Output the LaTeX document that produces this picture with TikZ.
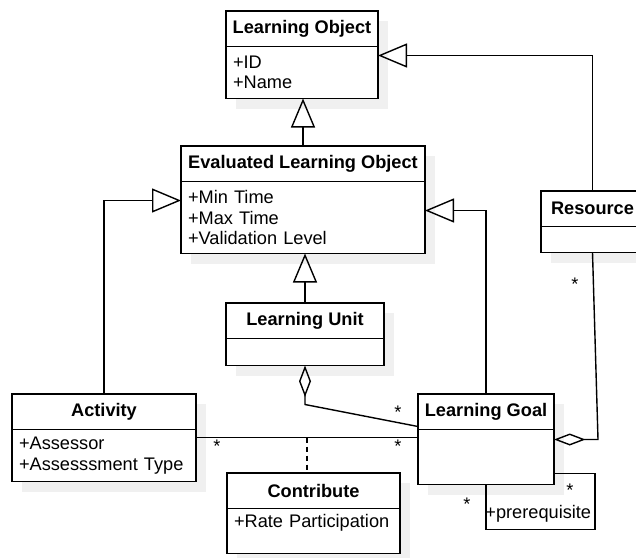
\documentclass[tikz,border=0pt]{standalone}
\usepackage{fontspec}
\setmainfont{Liberation Sans}
\usetikzlibrary{positioning,arrows.meta,shadows,calc}

\newcommand{\umlsize}{\fontsize{9.1}{10.25}\selectfont}

\tikzset{
  boxshadow/.style={drop shadow={shadow xshift=5pt, shadow yshift=-5pt, fill=black!6, opacity=1}},
  classhead/.style={draw, fill=white, line width=0.8pt, font=\umlsize\bfseries,
    inner sep=0pt, outer sep=0pt, minimum height=17.75pt, minimum width=#1,
    anchor=north west, boxshadow},
  classbody/.style 2 args={draw, fill=white, line width=0.8pt, align=left,
    inner xsep=3.5pt, inner ysep=0pt, outer sep=0pt, text width=#1,
    minimum height=#2, boxshadow}
}

\begin{document}
\begin{tikzpicture}[
        x=0.5pt,
        y=-0.5pt,
        every node/.append style={font=\umlsize},
        gen/.style={line width=0.7pt, -{Triangle[open, length=14.5pt, width=12pt]}},
        agg/.style={line width=0.7pt, -{Diamond[open, length=15.75pt, width=6pt]}},
        assoc/.style={line width=0.7pt},
        mult/.style={inner sep=0pt, anchor=north}]

\clip (0,0) rectangle (636,557);

%Klassen
\node[classhead=76pt] (lo) at (226,11) {Learning Object};
\node[classbody={69pt}{26pt}, below=0pt of lo] (lo-b) {+ID\\+Name};

\node[classhead=122pt] (elo) at (181,146) {Evaluated Learning Object};
\node[classbody={115pt}{36pt}, below=0pt of elo] (elo-b) {+Min Time\\+Max Time\\+Validation Level};

\node[classhead=51.5pt] (res) at (541,191) {Resource};
\node[classbody={44.5pt}{13pt}, below=0pt of res] (res-b) {};

\node[classhead=79pt] (lu) at (226,303) {Learning Unit};
\node[classbody={72pt}{13.5pt}, below=0pt of lu] (lu-b) {};

\node[classhead=92pt] (act) at (12,394) {Activity};
\node[classbody={85pt}{26pt}, below=0pt of act] (act-b) {+Assessor\\+Assesssment Type};

\node[classhead=68pt] (lg) at (418,394) {Learning Goal};
\node[classbody={61pt}{27.5pt}, below=0pt of lg] (lg-b) {};

\node[classhead=86.5pt] (con) at (227,473) {Contribute};
\node[classbody={79.5pt}{22.5pt}, below=0pt of con] (con-b) {+Rate Participation\\\mbox{}};

%Vererbung
\draw[gen] (elo.north) -- (elo.north |- lo-b.south);
\coordinate (lo-r) at ([yshift=-4.5pt]lo-b.north east);
\draw[gen] (res.north) |- (lo-r);
\coordinate (elo-l) at ([yshift=-9.5pt]elo-b.north west);
\draw[gen] (act.north) |- (elo-l);
\coordinate (elo-r) at ([yshift=-14.5pt]elo-b.north east);
\draw[gen] (lg.north) |- (elo-r);
\draw[gen] (lu.north) -- (lu.north |- elo-b.south);

%Aggregation
\coordinate (lg-l) at ([yshift=1.5pt]lg.south west);
\draw[agg] (lg-l) -- ([yshift=-19.5pt]lu-b.south) -- (lu-b.south);
\coordinate (lg-d) at ([yshift=-5pt]lg-b.north east);
\coordinate (res-d) at ($(res-b.south |- lg-d)+(5.5,0)$);
\draw[agg] (res-b.south) -- (res-d) -- (lg-d);

%Assoziation
\coordinate (act-r) at ([yshift=-4pt]act-b.north east);
\draw[assoc] (act-r) -- (act-r -| lg-b.west);
\coordinate (mid) at ($(act-r)!0.5!(act-r -| lg-b.west)$);
\draw[assoc, dash pattern=on 2.5pt off 2pt] (mid) -- (mid |- con.north);

%Selbstassoziation
\coordinate (lg-p) at ([yshift=5.5pt]lg-b.south east);
\draw[assoc] (lg-b.south) -- ++(0,45) -| ($(lg-p)+(41,0)$) -- (lg-p);

%Multiplizitaeten
\node[mult] (m1) at (398,405.5) {*};
\node[mult] (m2) at (217,439.5) {*};
\node[mult] (m3) at (398,439.5) {*};
\node[mult] (m4) at (575,277.5) {*};
\node[mult] (m5) at (467,497.5) {*};
\node[mult] (m6) at (570,483.5) {*};
\node[inner sep=0pt, anchor=west] (pre) at (485,514) {+prerequisite};

\end{tikzpicture}
\end{document}
